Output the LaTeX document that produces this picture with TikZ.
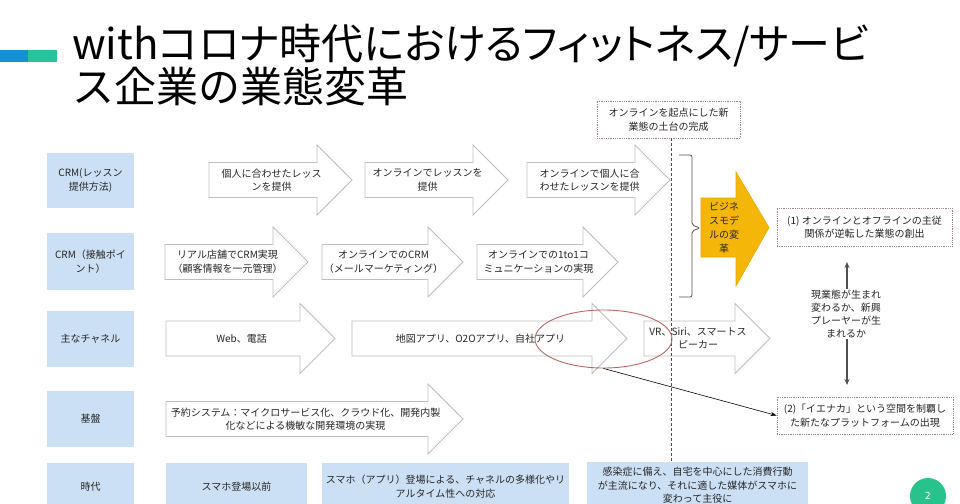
\documentclass[tikz,border=0pt]{standalone}
\usepackage{fontspec}
\setmainfont{Noto Sans CJK JP}
\newfontfamily\titlepalt[RawFeature=+palt]{Noto Sans CJK JP}
\usetikzlibrary{shapes.geometric,arrows.meta}
\definecolor{labblue}{RGB}{204,224,245}
\definecolor{arrowgray}{RGB}{190,190,190}
\definecolor{gold}{RGB}{245,182,10}
\definecolor{golddark}{RGB}{232,168,0}
\definecolor{ellred}{RGB}{185,105,100}
\definecolor{dashcol}{RGB}{100,70,70}
\definecolor{dotcol}{RGB}{165,130,130}
\definecolor{txt}{RGB}{38,38,38}
\definecolor{accblue}{RGB}{20,145,210}
\definecolor{accgreen}{RGB}{40,195,155}
\definecolor{pagegreen}{RGB}{40,195,140}
\definecolor{bracecol}{RGB}{80,80,80}
\newcommand\tenfont{\fontsize{10}{13.5}\selectfont}
% name, left x, tip x, centre y, text
\newcommand\fatarrow[5]{%
  \draw[arrowline] (#2,#4-17.5) -- (#3-35,#4-17.5) -- (#3-35,#4-35) -- (#3,#4)
    -- (#3-35,#4+35) -- (#3-35,#4+17.5) -- (#2,#4+17.5) -- cycle;
  \node[arrowtext] (#1) at ({(#2+#3)/2-9},#4) {#5};
}
\begin{document}
\begin{tikzpicture}[x=1pt,y=-1pt,
  lab/.style={fill=labblue, inner sep=0pt, align=center, text=txt, font=\tenfont},
  arrowline/.style={draw=arrowgray, fill=white, line width=0.8pt, line join=miter},
  arrowtext/.style={align=center, text=txt, font=\tenfont, inner sep=1pt},
  dotbox/.style={draw=dotcol, densely dotted, line width=0.8pt, align=center, text=txt, font=\tenfont, inner sep=0pt},
  plaintext/.style={align=center, text=txt, font=\tenfont, inner sep=1pt},
  varrow/.style={draw=bracecol, line width=1.3pt, -{Stealth[length=6pt,width=5pt]}},
  linkarrow/.style={draw=black, line width=0.6pt, -{Stealth[length=6pt,width=4pt]}}
]
\clip (0,0) rectangle (960,503);
\fill[white] (0,0) rectangle (960,503);

% accent bar
\fill[accblue] (0,50) rectangle (28,62);
\fill[accgreen] (28,50) rectangle (57,62);

% title
\node[anchor=west, inner sep=0pt, font=\titlepalt\fontsize{42}{42}\selectfont, text=black] (t1) at (72,46) {withコロナ時代におけるフィットネス/サービ};
\node[anchor=west, inner sep=0pt, font=\fontsize{42}{42}\selectfont, text=black] (t2) at (72,86) {ス企業の業態変革};

% row labels
\node[lab, minimum width=87pt, minimum height=55pt] (l1) at (90.5,180.5) {CRM(レッスン\\提供方法)};
\node[lab, minimum width=87pt, minimum height=57pt] (l2) at (90.5,261.5) {CRM（接触ポイ\\ント）};
\node[lab, minimum width=87pt, minimum height=56pt] (l3) at (90.5,339) {主なチャネル};
\node[lab, minimum width=87pt, minimum height=56pt] (l4) at (90.5,419) {基盤};
\node[lab, minimum width=87pt, minimum height=47pt] (l5) at (90.5,486.5) {時代};

% row 1
\fatarrow{a1}{209}{352}{180}{個人に合わせたレッス\\ンを提供}
\fatarrow{a2}{365}{508}{180}{オンラインでレッスンを\\提供}
\fatarrow{a3}{527}{670}{180}{オンラインで個人に合\\わせたレッスンを提供}

% row 2
\fatarrow{b1}{165}{308}{262}{リアル店舗でCRM実現\\（顧客情報を一元管理）}
\fatarrow{b2}{322}{463}{262}{オンラインでのCRM\\（メールマーケティング）}
\fatarrow{b3}{477}{618}{262}{オンラインでの1to1コ\\ミュニケーションの実現}

% row 3
\fatarrow{c1}{166}{335}{338.5}{Web、電話}
\fatarrow{c2}{352}{627}{338.5}{地図アプリ、O2Oアプリ、自社アプリ}
\fatarrow{c3}{644}{770}{338.5}{VR、Siri、スマートス\\ピーカー}

% row 4
\fatarrow{d1}{166}{463}{419}{予約システム：マイクロサービス化、クラウド化、開発内製\\化などによる機敏な開発環境の実現}

% row 5
\node[lab, minimum width=141pt, minimum height=47pt] (e1) at (236.5,486.5) {スマホ登場以前};
\node[lab, minimum width=247pt, minimum height=47pt] (e2) at (445.5,486.5) {スマホ（アプリ）登場による、チャネルの多様化やリ\\アルタイム性への対応};
\node[lab, minimum width=221pt, minimum height=47pt] (e3) at (697.5,485.5) {感染症に備え、自宅を中心にした消費行動\\が主流になり、それに適した媒体がスマホに\\変わって主役に};

% top dashed box and vertical line
\node[dotbox, minimum width=143pt, minimum height=37pt] (top) at (668.5,119.5) {オンラインを起点にした新\\業態の土台の完成};
\coordinate (vend) at (671,461);
\draw[dashcol, line width=0.6pt, dash pattern=on 3pt off 2pt] (top.south -| vend) -- (vend);

% brace
\draw[bracecol, line width=0.8pt, rounded corners=2pt] (679,155) -- (692,155) -- (692,225) -- (700,228) -- (692,231) -- (692,297) -- (679,297);

% yellow arrow
\draw[draw=golddark, fill=gold, line width=0.6pt] (701,198) -- (736,198) -- (736,172) -- (769,227.5) -- (736,286) -- (736,257) -- (701,257) -- cycle;
\node[align=center, text=txt, font=\fontsize{10}{14}\selectfont, inner sep=0pt] (bm) at (724,228) {ビジネ\\スモデ\\ルの変\\革};

% right boxes
\node[dotbox, minimum width=175pt, minimum height=38pt] (r1) at (864.5,227) {(1) オンラインとオフラインの主従\\関係が逆転した業態の創出};
\node[dotbox, minimum width=176pt, minimum height=37pt] (r2) at (865,415.5) {(2)「イエナカ」という空間を制覇し\\た新たなプラットフォームの出現};

% middle text with arrows
\node[plaintext, font=\fontsize{10}{13}\selectfont] (vt) at (846,314) {現業態が生まれ\\変わるか、新興\\プレーヤーが生\\まれるか};
\coordinate (upend) at (847,262);
\coordinate (downend) at (847,385);
\draw[varrow] (vt.north -| upend) -- (upend);
\draw[varrow] (vt.south -| downend) -- (downend);

% ellipse and link
\node[draw=ellred, line width=0.9pt, ellipse, minimum width=137pt, minimum height=58pt, inner sep=0pt] (ell) at (603.5,339) {};
\draw[linkarrow] (ell.south) -- (r2.west);

% page number
\node[circle, fill=pagegreen, minimum size=36pt, inner sep=0pt, text=white, font=\fontsize{10}{10}\selectfont] (pg) at (928,496) {2};
\end{tikzpicture}
\end{document}
